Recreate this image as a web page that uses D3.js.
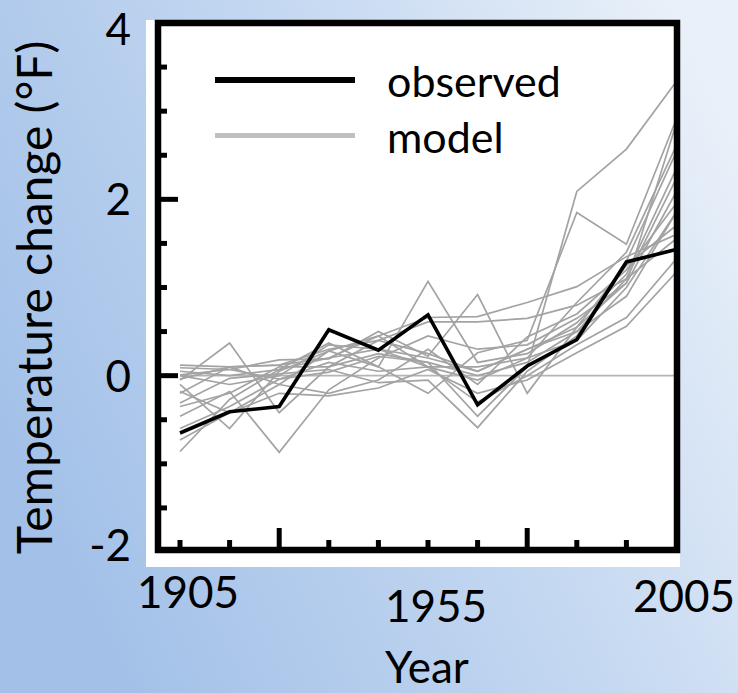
<!DOCTYPE html>
<html>
<head>
<meta charset="utf-8">
<script src="https://cdn.jsdelivr.net/npm/d3@7"></script>
<style>
  html, body { margin: 0; padding: 0; }
  body { width: 738px; height: 693px; overflow: hidden; }
  text { font-family: Lato, "Open Sans", sans-serif; fill: #000; }
</style>
</head>
<body>
<svg id="chart" width="738" height="693"></svg>
<script>
// ---------------- DATA ----------------
const years = [1905, 1915, 1925, 1935, 1945, 1955, 1965, 1975, 1985, 1995, 2005];

const observed = [-0.65, -0.41, -0.35, 0.52, 0.29, 0.69, -0.33, 0.11, 0.41, 1.29, 1.43];

const model01 = [0.12, 0.10, 0.12, 0.20, 0.30, 0.20, 0.05, 0.30, 0.55, 1.05, 2.85];
const model02 = [-0.05, 0.37, -0.42, 0.10, 0.25, 0.15, 0.00, 0.15, 0.50, 1.10, 2.23];
const model03 = [-0.10, -0.60, 0.05, 0.28, 0.45, 0.10, -0.05, 0.20, 0.40, 1.00, 1.85];
const model04 = [-0.46, -0.18, -0.87, -0.16, 0.20, 0.45, 0.30, 0.35, 0.65, 1.05, 2.08];
const model05 = [-0.86, -0.27, 0.07, 0.37, 0.10, 1.07, 0.15, 0.25, 0.60, 1.15, 2.34];
const model06 = [0.01, 0.07, 0.18, 0.19, 0.50, 0.22, 0.92, -0.20, 0.55, 1.25, 1.70];
const model07 = [-0.31, -0.03, 0.02, 0.07, -0.08, -0.05, -0.59, 0.05, 0.45, 1.30, 2.53];
const model08 = [0.09, 0.07, -0.04, 0.04, 0.22, 0.15, -0.46, 0.10, 2.09, 2.57, 3.33];
const model09 = [-0.18, -0.42, -0.10, 0.28, 0.10, -0.20, 0.26, 0.40, 1.85, 1.49, 2.90];
const model10 = [-0.04, 0.10, 0.12, 0.30, 0.40, 0.61, 0.61, 0.65, 0.80, 1.10, 1.55];
const model11 = [0.05, 0.00, 0.07, 0.20, 0.45, 0.66, 0.67, 0.83, 1.01, 1.35, 1.60];
const model12 = [-0.73, -0.42, -0.20, -0.23, -0.14, 0.07, -0.20, -0.05, 0.26, 0.56, 1.17];
const model13 = [-0.60, -0.35, -0.04, 0.15, 0.05, 0.10, -0.30, 0.00, 0.35, 0.66, 1.32];
const model14 = [-0.20, 0.10, -0.10, -0.20, -0.05, 0.30, -0.10, 0.44, 0.70, 1.20, 1.95];
const model15 = [0.00, -0.10, 0.00, 0.35, 0.30, 0.10, 0.10, 0.20, 0.83, 1.40, 2.60];
const model16 = [-0.35, -0.20, 0.10, 0.10, 0.40, 0.25, 0.05, 0.30, 0.50, 0.90, 1.85];
const modelRuns = [model01, model02, model03, model04, model05, model06, model07, model08,
                   model09, model10, model11, model12, model13, model14, model15, model16];

const yTickLabels = [4, 2, 0, -2];
const xTickLabels = [1905, 1955, 2005];
const yMinorTicks = d3.range(-1.5, 4, 0.5);
const yMajorTicks = [0, 2];
const xMinorTicks = [1905, 1915, 1925, 1935, 1945, 1955, 1965, 1975, 1985, 1995];
const xMajorTicks = [1925, 1975];
const legendLabels = ["observed", "model"];
const yTitle = "Temperature change (°F)";
const xTitle = "Year";

// ---------------- LAYOUT ----------------
const svg = d3.select("#chart");
const W = 738, H = 693;
const x = d3.scaleLinear().domain([1905, 2005]).range([180, 676]);
const y = d3.scaleLinear().domain([-2, 4]).range([552, 23]);
const frameLeft = 158, frameRight = 677;
const modelColor = "#a3a3a3";

// background gradient
const defs = svg.append("defs");
const grad = defs.append("linearGradient").attr("id", "bg")
  .attr("x1", "0").attr("y1", "0.65").attr("x2", "1").attr("y2", "0.2");
grad.append("stop").attr("offset", "0").attr("stop-color", "#a2c0e8");
grad.append("stop").attr("offset", "0.55").attr("stop-color", "#c4d8f1");
grad.append("stop").attr("offset", "1").attr("stop-color", "#e9f0f9");
svg.append("rect").attr("width", W).attr("height", H).attr("fill", "url(#bg)");

// white panel
svg.append("rect").attr("x", 146).attr("y", 20).attr("width", 680 - 146).attr("height", 567 - 20)
  .attr("fill", "#fff");

// clip for data lines
defs.append("clipPath").attr("id", "plotClip").append("rect")
  .attr("x", frameLeft).attr("y", y(4)).attr("width", frameRight - frameLeft).attr("height", y(-2) - y(4));

const line = d3.line().x((d, i) => x(years[i])).y(d => y(d));
const plot = svg.append("g").attr("clip-path", "url(#plotClip)");

// zero reference
plot.append("line").attr("x1", x(1905)).attr("x2", x(2005)).attr("y1", y(0)).attr("y2", y(0))
  .attr("stroke", "#b5b5b5").attr("stroke-width", 1.7);

plot.selectAll("path.model").data(modelRuns).join("path").attr("class", "model")
  .attr("d", line).attr("fill", "none").attr("stroke", modelColor)
  .attr("stroke-width", 1.7).attr("stroke-linejoin", "miter");

plot.append("path").datum(observed).attr("d", line).attr("fill", "none")
  .attr("stroke", "#000").attr("stroke-width", 3.6).attr("stroke-linejoin", "miter");

// frame
svg.append("rect").attr("x", frameLeft).attr("y", y(4))
  .attr("width", frameRight - frameLeft).attr("height", y(-2) - y(4) - 2)
  .attr("fill", "none").attr("stroke", "#000").attr("stroke-width", 6.5);

// y ticks (inward)
svg.selectAll("line.ymin").data(yMinorTicks).join("line").attr("class", "ymin")
  .attr("x1", frameLeft).attr("x2", d => yMajorTicks.includes(d) ? 178 : 167)
  .attr("y1", d => y(d)).attr("y2", d => y(d))
  .attr("stroke", "#000").attr("stroke-width", 5);

// x ticks (inward)
const xAxisY = y(-2) - 2;
svg.selectAll("line.xmin").data(xMinorTicks).join("line").attr("class", "xmin")
  .attr("x1", d => x(d)).attr("x2", d => x(d))
  .attr("y1", xAxisY).attr("y2", d => xMajorTicks.includes(d) ? xAxisY - 22 : xAxisY - 10)
  .attr("stroke", "#000").attr("stroke-width", 5);

// y tick labels
const yLabelSize = 44;
svg.selectAll("text.ytl").data(yTickLabels).join("text").attr("class", "ytl")
  .attr("x", 131)
  .attr("y", d => Math.min(545, Math.max(29, y(d))) + yLabelSize * 0.36)
  .attr("text-anchor", "end").attr("font-size", yLabelSize)
  .text(d => d);

// x tick labels
const xLabelDy = [608, 622, 612];
svg.selectAll("text.xtl").data(xTickLabels).join("text").attr("class", "xtl")
  .attr("x", d => x(d) + 8).attr("y", (d, i) => xLabelDy[i])
  .attr("text-anchor", "middle").attr("font-size", 44)
  .text(d => d);

// axis titles
svg.append("text").attr("transform", `translate(52, ${(560 + 35) / 2}) rotate(-90)`)
  .attr("text-anchor", "middle").attr("font-size", 48).text(yTitle);
svg.append("text").attr("x", 427).attr("y", 683).attr("text-anchor", "middle")
  .attr("font-size", 44).text(xTitle);

// legend
const legendY = [80, 135.5];
const legendStroke = ["#000", "#c0c0c0"];
const legendWidth = [6, 5];
const lg = svg.selectAll("g.leg").data(legendLabels).join("g").attr("class", "leg");
lg.append("line").attr("x1", 215).attr("x2", 355)
  .attr("y1", (d, i) => legendY[i]).attr("y2", (d, i) => legendY[i])
  .attr("stroke", (d, i) => legendStroke[i]).attr("stroke-width", (d, i) => legendWidth[i]);
lg.append("text").attr("x", 387).attr("y", (d, i) => legendY[i] + 17)
  .attr("font-size", 43).text(d => d);
</script>
</body>
</html>
